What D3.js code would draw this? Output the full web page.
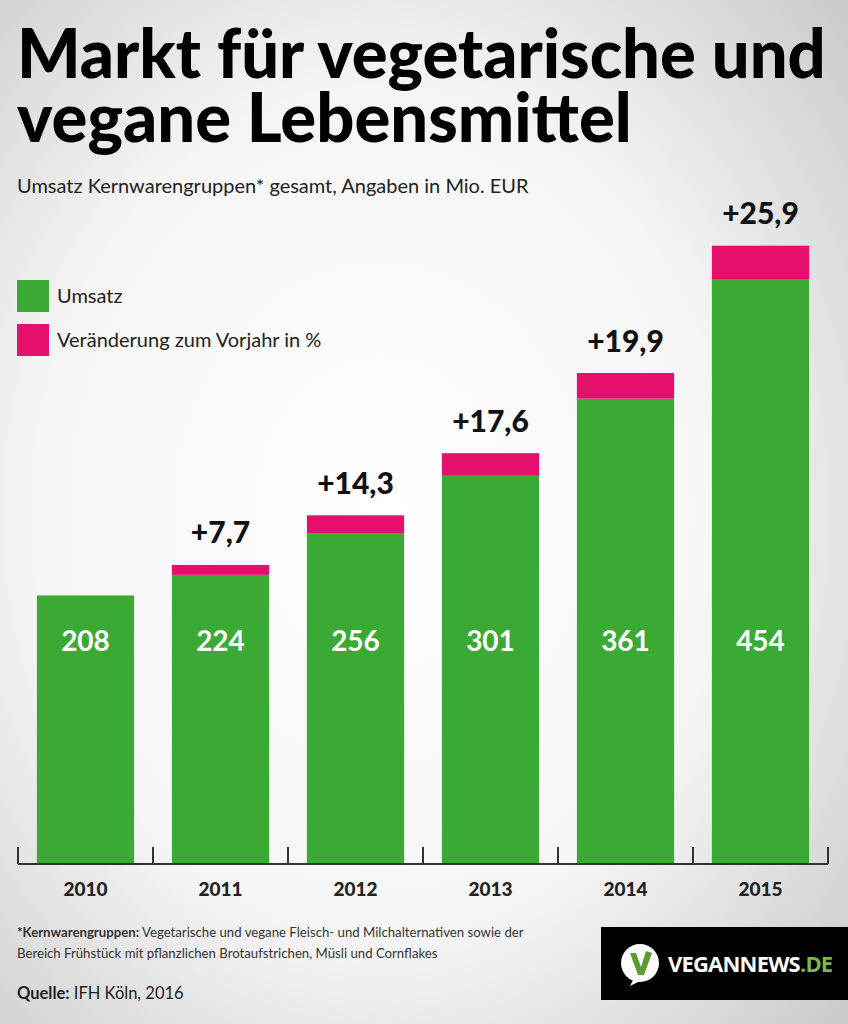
<!DOCTYPE html>
<html><head><meta charset="utf-8">
<script src="https://cdn.jsdelivr.net/npm/d3@7"></script>
<style>html,body{margin:0;padding:0;}svg{display:block;}</style>
</head><body>
<script>
const years = ["2010","2011","2012","2013","2014","2015"];
const umsatz = [208, 224, 256, 301, 361, 454];
const change = [null, 7.7, 14.3, 17.6, 19.9, 25.9];
const changeLabels = ["", "+7,7", "+14,3", "+17,6", "+19,9", "+25,9"];
const valueLabels = ["208", "224", "256", "301", "361", "454"];
const legendLabels = ["Umsatz", "Veränderung zum Vorjahr in %"];

const W = 848, H = 1024;
const green = "#3aaa35", pink = "#e5106b";
const svg = d3.select("body").append("svg").attr("width", W).attr("height", H);
const defs = svg.append("defs");
const rg = defs.append("radialGradient").attr("id","bg").attr("cx","45%").attr("cy","50%").attr("r","75%");
rg.append("stop").attr("offset","0%").attr("stop-color","#ffffff");
rg.append("stop").attr("offset","55%").attr("stop-color","#f5f5f5");
rg.append("stop").attr("offset","100%").attr("stop-color","#c9c9c9");
svg.append("rect").attr("width",W).attr("height",H).attr("fill","url(#bg)");

// Title
const titleLines = ["Markt für vegetarische und", "vegane Lebensmittel"];
const titleG = svg.append("g");
const titleTexts = titleLines.map((t,i)=> titleG.append("text").attr("x",0).attr("y",78+i*64)
  .attr("font-family","Lato").attr("font-weight",900).attr("font-size",68).attr("fill","#000").text(t));

svg.append("text").attr("x",17).attr("y",193).attr("font-family","Lato").attr("font-size",20)
  .attr("fill","#222").text("Umsatz Kernwarengruppen* gesamt, Angaben in Mio. EUR");

// Legend
[green, pink].forEach((c,i)=>{
  svg.append("rect").attr("x",17).attr("y",280+i*44).attr("width",32).attr("height",32).attr("fill",c);
  svg.append("text").attr("x",57).attr("y",296+i*44).attr("dy","0.35em").attr("font-family","Lato")
    .attr("font-size",20).attr("fill","#222").text(legendLabels[i]);
});

// Scales
const x = d3.scaleBand().domain(years).range([18, 828]).paddingInner(0.28).paddingOuter(0.14);
const y = d3.scaleLinear().domain([0, 454]).range([863, 279]);

const g = svg.append("g");
const data = years.map((yr,i)=>({yr, v: umsatz[i], c: change[i], cl: changeLabels[i], vl: valueLabels[i]}));

g.selectAll(".bar").data(data).join("rect").attr("class","bar")
  .attr("x", d=>x(d.yr)).attr("width", x.bandwidth())
  .attr("y", d=>y(d.v)).attr("height", d=>y(0)-y(d.v)).attr("fill", green);

g.selectAll(".chg").data(data.filter(d=>d.c!=null)).join("rect").attr("class","chg")
  .attr("x", d=>x(d.yr)).attr("width", x.bandwidth())
  .attr("y", d=>y(d.v + d.c)).attr("height", d=>y(d.v)-y(d.v+d.c)).attr("fill", pink);

g.selectAll(".vl").data(data).join("text").attr("class","vl")
  .attr("x", d=>x(d.yr)+x.bandwidth()/2).attr("y", 641).attr("dy","0.35em")
  .attr("text-anchor","middle").attr("font-family","Lato").attr("font-weight",700)
  .attr("font-size",28).attr("fill","#fff").text(d=>d.vl);

g.selectAll(".cl").data(data.filter(d=>d.c!=null)).join("text").attr("class","cl")
  .attr("x", d=>x(d.yr)+x.bandwidth()/2).attr("y", d=>y(d.v+d.c)-32).attr("dy","0.35em")
  .attr("text-anchor","middle").attr("font-family","Lato").attr("font-weight",900)
  .attr("font-size",30).attr("fill","#111").text(d=>d.cl);

// Axis
const axisG = svg.append("g").attr("transform","translate(0,864)");
axisG.append("line").attr("x1",18).attr("x2",828).attr("y1",0).attr("y2",0).attr("stroke","#333").attr("stroke-width",2);
const bounds = years.map(yr=>x(yr) - (x.step()-x.bandwidth())/2);
bounds.push(828);
axisG.selectAll(".tk").data(bounds).join("line").attr("class","tk")
  .attr("x1",d=>d).attr("x2",d=>d).attr("y1",0).attr("y2",-17).attr("stroke","#333").attr("stroke-width",2);
svg.append("g").selectAll("text").data(years).join("text")
  .attr("x", d=>x(d)+x.bandwidth()/2).attr("y",889).attr("dy","0.35em").attr("text-anchor","middle")
  .attr("font-family","Lato").attr("font-weight",900).attr("font-size",19).attr("fill","#222").text(d=>d);

// Footnote
const fn = svg.append("text").attr("font-family","Lato").attr("font-size",13.2).attr("fill","#333");
const l1 = fn.append("tspan").attr("x",17).attr("y",937);
l1.append("tspan").attr("font-weight",700).text("*Kernwarengruppen:");
l1.append("tspan").text(" Vegetarische und vegane Fleisch- und Milchalternativen sowie der");
fn.append("tspan").attr("x",17).attr("y",958).text("Bereich Frühstück mit pflanzlichen Brotaufstrichen, Müsli und Cornflakes");

const q = svg.append("text").attr("x",17).attr("y",999).attr("font-family","Lato").attr("font-size",16.5).attr("fill","#222");
q.append("tspan").attr("font-weight",700).text("Quelle:");
q.append("tspan").text(" IFH Köln, 2016");

// Logo
const lg = svg.append("g");
lg.append("rect").attr("x",601).attr("y",927).attr("width",247).attr("height",73).attr("fill","#000");
lg.append("circle").attr("cx",640).attr("cy",963).attr("r",19).attr("fill","#fff");
lg.append("path").attr("d","M 634 978 L 630 986 L 642 980 Z").attr("fill","#fff");
lg.append("path").attr("d","M 630 953 L 636 953 L 641 967 L 646 951 L 652 953 L 644 975 L 638 975 Z").attr("fill","#5a9b32");
const lt = lg.append("text").attr("x",668).attr("y",972).attr("font-family","Open Sans").attr("font-weight",700)
  .attr("font-size",21).attr("letter-spacing",-0.8).attr("fill","#fff");
lt.append("tspan").text("VEGANNEWS");
lt.append("tspan").attr("fill","#7ab648").text(".DE");

// fit title width by horizontal compression
const w1 = titleTexts[0].node().getComputedTextLength();
const sx = w1 > 0 ? 809 / w1 : 1;
titleG.attr("transform", `translate(17,0) scale(${sx},1)`);
const sub = lt.node().getComputedTextLength();
if (sub>0) lt.attr("font-size", 21*164/sub);
</script>
</body></html>
